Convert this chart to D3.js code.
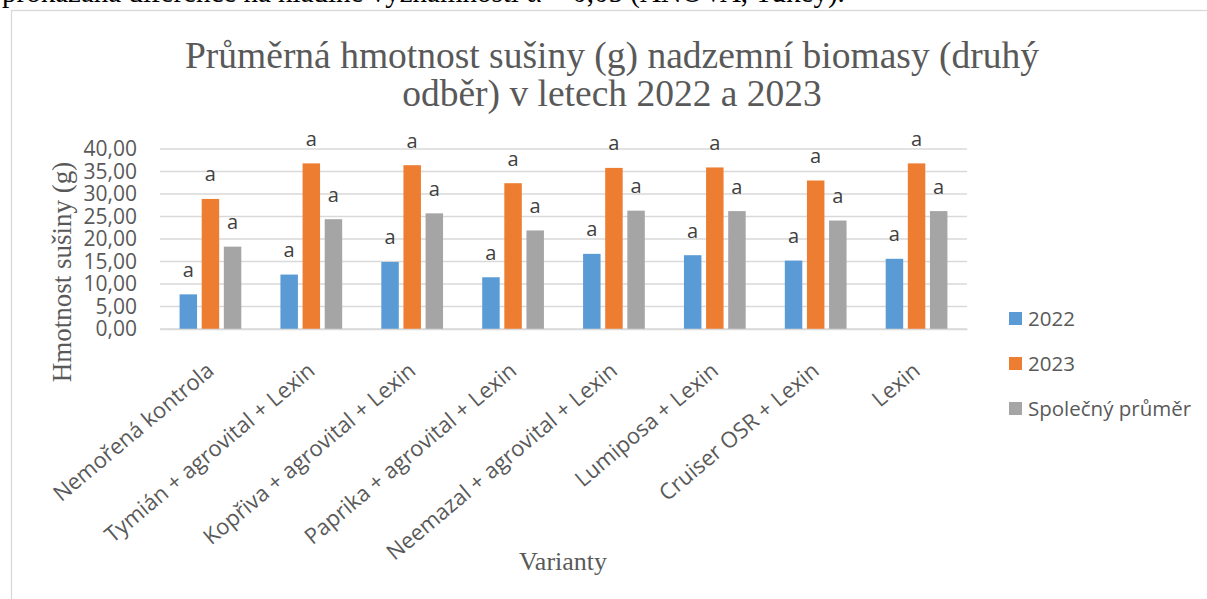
<!DOCTYPE html>
<html>
<head>
<meta charset="utf-8">
<script src="https://cdn.jsdelivr.net/npm/d3@7"></script>
<style>
  body { margin: 0; background: #fff; }
  svg { display: block; }
</style>
</head>
<body>
<div id="visualization"></div>
<script>
const categories = [
  "Nemořená kontrola",
  "Tymián + agrovital + Lexin",
  "Kopřiva + agrovital + Lexin",
  "Paprika + agrovital + Lexin",
  "Neemazal + agrovital + Lexin",
  "Lumiposa + Lexin",
  "Cruiser OSR + Lexin",
  "Lexin"
];
const seriesNames = ["2022", "2023", "Společný průměr"];
const values2022 = [7.7, 12.1, 14.9, 11.5, 16.7, 16.4, 15.2, 15.6];
const values2023 = [28.9, 36.8, 36.4, 32.4, 35.8, 35.9, 33.0, 36.8];
const valuesMean = [18.3, 24.4, 25.7, 21.9, 26.3, 26.2, 24.1, 26.2];
const letters2022 = ["a", "a", "a", "a", "a", "a", "a", "a"];
const letters2023 = ["a", "a", "a", "a", "a", "a", "a", "a"];
const lettersMean = ["a", "a", "a", "a", "a", "a", "a", "a"];
const yTicks = [0, 5, 10, 15, 20, 25, 30, 35, 40];
const colors = ["#5b9bd5", "#ed7d31", "#a5a5a5"];

class GroupedBarChart {
  constructor() {
    this.width = 1207;
    this.height = 599;
    this.textColor = "#595959";
    this.sans = "'Open Sans', sans-serif";
    this.serif = "'Liberation Serif', 'Times New Roman', serif";
    this.buildData();
    this.buildSvg();
    this.buildScales();
    this.drawFrame();
    this.drawGrid();
    this.drawBars();
    this.drawAxes();
    this.drawTitles();
    this.drawLegend();
  }

  buildData() {
    const vals = [values2022, values2023, valuesMean];
    const lets = [letters2022, letters2023, lettersMean];
    this.rows = categories.map((c, i) => ({
      category: c,
      bars: seriesNames.map((s, j) => ({ series: s, value: vals[j][i], letter: lets[j][i] }))
    }));
  }

  buildSvg() {
    this.svg = d3.select("#visualization").append("svg")
      .attr("width", this.width)
      .attr("height", this.height);
  }

  buildScales() {
    this.x = d3.scaleBand().domain(categories).range([160, 967]).paddingInner(0.388).paddingOuter(0.194);
    this.xSeries = d3.scaleBand().domain(seriesNames).range([0, this.x.bandwidth()]).paddingInner(0.21);
    this.y = d3.scaleLinear().domain([0, 40]).range([329, 149]);
    this.color = d3.scaleOrdinal().domain(seriesNames).range(colors);
  }

  drawFrame() {
    // page text line cut off above the chart
    this.svg.append("text")
      .attr("x", 2).attr("y", 2)
      .style("font-family", this.serif).style("font-size", "29px").style("fill", "#000")
      .text("prokázána diference na hladině významnosti α = 0,05 (ANOVA, Tukey).");

    this.svg.append("rect")
      .attr("x", 11.5).attr("y", 10.5)
      .attr("width", 1300).attr("height", 700)
      .attr("fill", "#fff")
      .attr("stroke", "#d9d9d9").attr("stroke-width", 1.3);
  }

  drawGrid() {
    this.svg.append("g").selectAll("line")
      .data(yTicks)
      .join("line")
      .attr("x1", 160).attr("x2", 967)
      .attr("y1", d => this.y(d)).attr("y2", d => this.y(d))
      .attr("stroke", "#d9d9d9").attr("stroke-width", 1.3);
  }

  drawBars() {
    const groups = this.svg.append("g").selectAll("g.group")
      .data(this.rows)
      .join("g")
      .attr("class", "group")
      .attr("transform", d => "translate(" + this.x(d.category) + ",0)");

    groups.selectAll("rect")
      .data(d => d.bars)
      .join("rect")
      .attr("x", d => this.xSeries(d.series))
      .attr("y", d => this.y(d.value))
      .attr("width", this.xSeries.bandwidth())
      .attr("height", d => this.y(0) - this.y(d.value))
      .attr("fill", d => this.color(d.series));

    groups.selectAll("text")
      .data(d => d.bars)
      .join("text")
      .attr("x", d => this.xSeries(d.series) + this.xSeries.bandwidth() / 2)
      .attr("y", d => this.y(d.value) - 17.5)
      .attr("text-anchor", "middle")
      .style("font-family", this.sans).style("font-size", "20px").style("fill", "#404040")
      .text(d => d.letter);
  }

  drawAxes() {
    const fmt = d3.format(".2f");
    const yAxis = this.svg.append("g")
      .attr("transform", "translate(160,0)")
      .call(d3.axisLeft(this.y).tickValues(yTicks).tickSize(0).tickPadding(23)
        .tickFormat(d => fmt(d).replace(".", ",")));
    yAxis.select(".domain").remove();
    yAxis.selectAll("text")
      .style("font-family", this.sans).style("font-size", "21px").style("fill", this.textColor);

    const xAxis = this.svg.append("g")
      .attr("transform", "translate(0,329)")
      .call(d3.axisBottom(this.x).tickSize(0).tickPadding(0));
    xAxis.select(".domain").attr("stroke", "#d9d9d9").attr("stroke-width", 1.3);
    xAxis.selectAll("text")
      .attr("text-anchor", "end")
      .attr("dy", 0)
      .attr("transform", "translate(5,44) rotate(-40)")
      .style("font-family", this.sans).style("font-size", "22px").style("fill", this.textColor);
  }

  drawTitles() {
    const title = this.svg.append("text")
      .attr("text-anchor", "middle")
      .style("font-family", this.serif).style("font-size", "37.5px").style("fill", this.textColor);
    title.append("tspan").attr("x", 612).attr("y", 68).text("Průměrná hmotnost sušiny (g) nadzemní biomasy (druhý");
    title.append("tspan").attr("x", 612).attr("y", 106).text("odběr) v letech 2022 a 2023");

    this.svg.append("text")
      .attr("transform", "translate(71,272) rotate(-90)")
      .attr("text-anchor", "middle")
      .style("font-family", this.serif).style("font-size", "27px").style("fill", this.textColor)
      .text("Hmotnost sušiny (g)");

    this.svg.append("text")
      .attr("x", 563).attr("y", 570)
      .attr("text-anchor", "middle")
      .style("font-family", this.serif).style("font-size", "26px").style("fill", this.textColor)
      .text("Varianty");
  }

  drawLegend() {
    const items = this.svg.append("g").selectAll("g")
      .data(seriesNames)
      .join("g")
      .attr("transform", (d, i) => "translate(1009," + (312 + i * 45) + ")");

    items.append("rect")
      .attr("width", 13).attr("height", 13)
      .attr("fill", d => this.color(d));

    items.append("text")
      .attr("x", 19).attr("y", 13.5)
      .style("font-family", this.sans).style("font-size", "20.5px").style("fill", this.textColor)
      .text(d => d);
  }
}

new GroupedBarChart();
</script>
</body>
</html>
